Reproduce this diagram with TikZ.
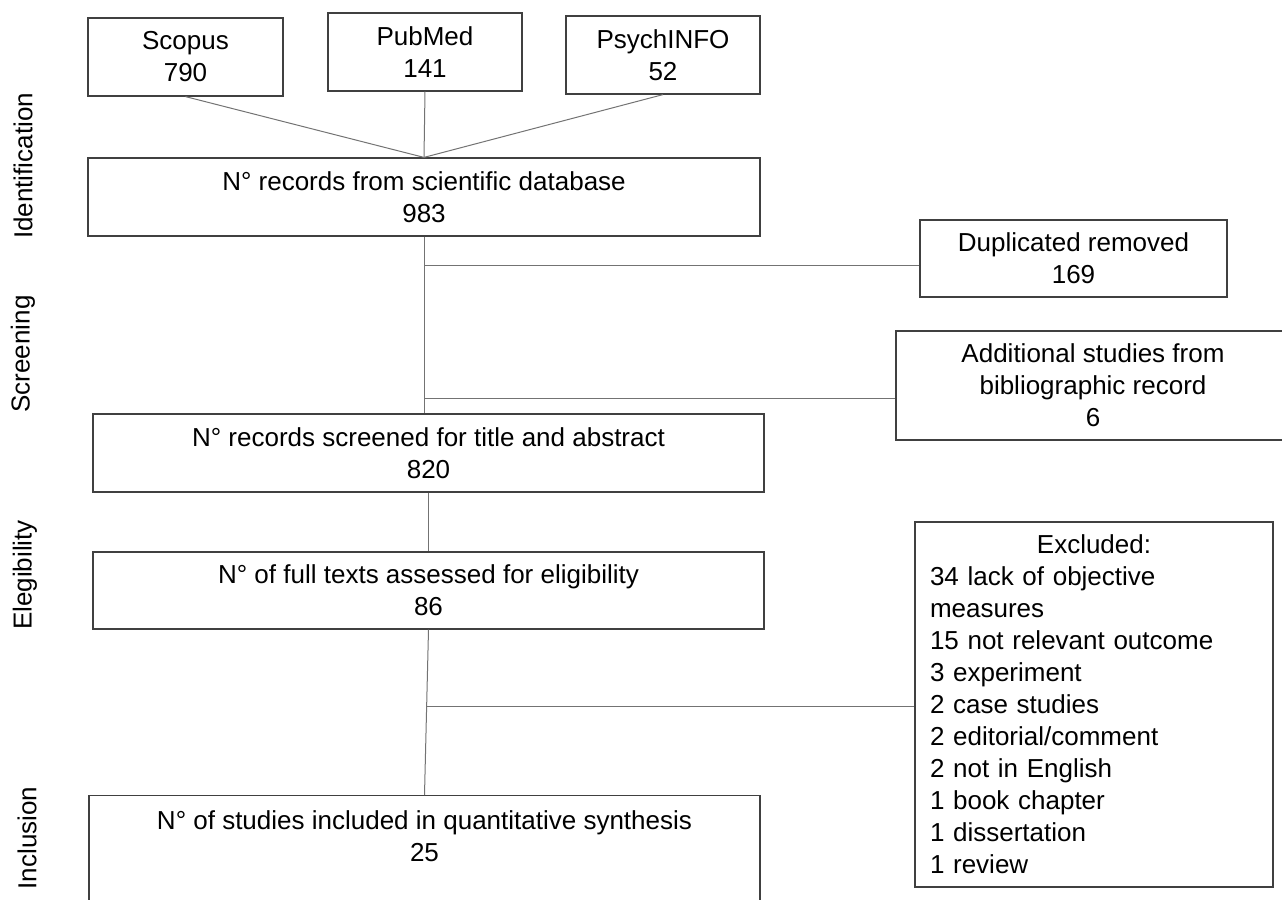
\documentclass[tikz,border=0pt]{standalone}
\usepackage{fontspec}
\setmainfont{Liberation Sans}
\usepackage{tikz}

\begin{document}
\begin{tikzpicture}[
                x=0.5pt, y=-0.5pt,
                font=\fontsize{13}{16}\selectfont,
                box/.style={draw=black!75, line width=0.6pt, align=center, inner sep=0pt},
                link/.style={draw=black!55, line width=0.5pt},
                phase/.style={rotate=90, inner sep=0pt}
            ]
                \useasboundingbox (0,0) rectangle (1282,900);
                \clip (0,0) rectangle (1282,900);

                \node[phase] (ident) at (23,166) {Identification};
                \node[phase] (screen) at (23,354) {Screening};
                \node[phase] (elegib) at (25,575) {Elegibility};
                \node[phase] (inclus) at (27,838) {Inclusion};

                \node[box, minimum width=97.5pt, minimum height=39pt] (scopus) at (185.5,57) {Scopus\\790};
                \node[box, minimum width=97pt, minimum height=39pt] (pubmed) at (425,52) {PubMed\\141};
                \node[box, minimum width=97pt, minimum height=39pt] (psych) at (663,55) {PsychINFO\\52};
                \node[box, minimum width=336pt, minimum height=39pt] (db) at (424,197) {N° records from scientific database\\983};
                \node[box, minimum width=153.5pt, minimum height=38.5pt] (dup) at (1073.5,258.5) {Duplicated removed\\169};
                \node[box, minimum width=197pt, minimum height=54.5pt] (add) at (1093,385.5) {Additional studies from\\bibliographic record\\6};
                \node[box, minimum width=335.5pt, minimum height=39pt] (scr) at (428.5,453) {N° records screened for title and abstract\\820};
                \node[box, minimum width=335.5pt, minimum height=38.5pt] (elig) at (428.5,590.5) {N° of full texts assessed for eligibility\\86};
                \node[box, minimum width=335.5pt, minimum height=75pt, anchor=north] (incl) at (424.5,795) {};
                \node[align=center, inner sep=0pt, anchor=north] (incltext) at ([yshift=-7.5pt]incl.north) {N° of studies included in quantitative synthesis\\25};
                \node[box, align=left, inner xsep=7.5pt, text width=164pt, minimum height=182.5pt] (excl) at (1094,704.5) {%
                    \makebox[164pt]{Excluded:}\\
                    34 lack of objective\\
                    measures\\
                    15 not relevant outcome\\
                    3 experiment\\
                    2 case studies\\
                    2 editorial/comment\\
                    2 not in English\\
                    1 book chapter\\
                    1 dissertation\\
                    1 review};

                \draw[link] (scopus.south) -- (db.north);
                \draw[link] (pubmed.south) -- (db.north);
                \draw[link] (psych.south) -- (db.north);
                \draw[link] (db.south) -- (db.south |- scr.north);
                \coordinate (dupjoin) at (424,265);
                \draw[link] (dupjoin) -- (dupjoin -| dup.west);
                \coordinate (addjoin) at (424,398);
                \draw[link] (addjoin) -- (addjoin -| add.west);
                \draw[link] (scr.south) -- (elig.north);
                \draw[link] (elig.south) -- (incl.north);
                \coordinate (excljoin) at (426,706);
                \draw[link] (excljoin) -- (excljoin -| excl.west);
            \end{tikzpicture}
\end{document}
